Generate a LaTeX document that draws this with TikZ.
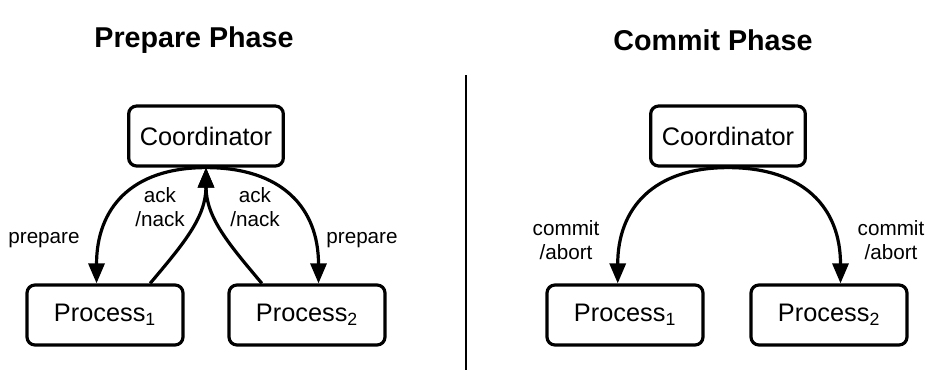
\documentclass[tikz,border=0pt]{standalone}
\usepackage{fontspec}
\setmainfont{Liberation Sans}
\usetikzlibrary{arrows.meta, positioning}

\begin{document}
\begin{tikzpicture}[
        x=0.75pt, y=-0.75pt,
        box/.style={draw, line width=2.4pt, rounded corners=6pt, minimum width=117pt, minimum height=45pt, font=\fontsize{19}{22}\selectfont},
        msg/.style={-{Triangle[length=15pt,width=12pt]}, line width=2.4pt},
        lbl/.style={align=center, font=\fontsize{15.5}{18}\selectfont},
        phase/.style={font=\fontsize{21.5}{25}\selectfont\bfseries}
    ]
        \useasboundingbox (0,0) rectangle (930,372);
        % prepare phase
        \node[phase] (tl) at (194,40) {Prepare Phase};
        \node[box, minimum width=116pt] (cl) at (206,136) {Coordinator};
        \node[box] (pl1) at (105,315) {Process\textsubscript{1}};
        \node[box] (pl2) at (307,315) {Process\textsubscript{2}};
        \draw[msg] (cl.south) to[out=180, in=90, looseness=1.2] (pl1.105);
        \draw[msg] (cl.south) to[out=0, in=90, looseness=1.2] (pl2.70);
        \draw[msg] (pl1.35) to[out=50, in=270] (cl.south);
        \draw[msg] (pl2.145) to[out=130, in=270] (cl.south);
        \node[lbl] (prl) at (44,240) {prepare};
        \node[lbl] (prr) at (362,240) {prepare};
        \node[lbl] (akl) at (160,207) {ack\\/nack};
        \node[lbl] (akr) at (255,207) {ack\\/nack};
        % divider
        \coordinate (d1) at (466,75);
        \coordinate (d2) at (466,370);
        \draw[line width=1.5pt] (d1) -- (d2);
        % commit phase
        \node[phase] (tr) at (713,40) {Commit Phase};
        \node[box, minimum width=116pt] (cr) at (728,136) {Coordinator};
        \node[box] (pr1) at (625,315) {Process\textsubscript{1}};
        \node[box] (pr2) at (829,315) {Process\textsubscript{2}};
        \draw[msg] (cr.south) to[out=180, in=90, looseness=1.2] (pr1.103);
        \draw[msg] (cr.south) to[out=0, in=90, looseness=1.2] (pr2.70);
        \node[lbl] (cml) at (566,240) {commit\\/abort};
        \node[lbl] (cmr) at (891,240) {commit\\/abort};
    \end{tikzpicture}
\end{document}
